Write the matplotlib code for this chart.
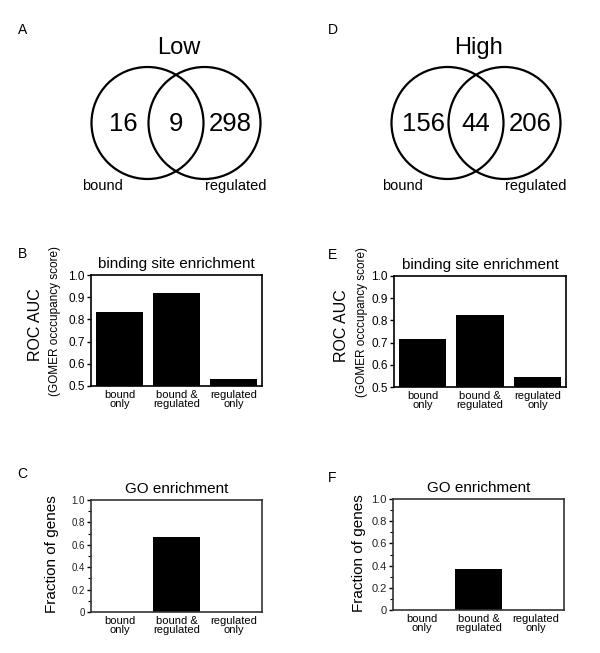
import matplotlib
matplotlib.use("Agg")
import matplotlib.pyplot as plt
from matplotlib.patches import Circle
from matplotlib.ticker import MultipleLocator

plt.rcParams['font.family'] = ['Liberation Sans', 'DejaVu Sans']

# ---- data ----
venn_titles = ["Low", "High"]
venn_low = [16, 9, 298]
venn_high = [156, 44, 206]
set_labels = ["bound", "regulated"]
categories = ["bound\nonly", "bound &\nregulated", "regulated\nonly"]
roc_low = [0.835, 0.92, 0.53]
roc_high = [0.715, 0.825, 0.545]
go_low = [0.0, 0.67, 0.0]
go_high = [0.0, 0.37, 0.0]
roc_ticks = [0.5, 0.6, 0.7, 0.8, 0.9, 1.0]
go_ticks = [0, 0.2, 0.4, 0.6, 0.8, 1.0]
go_ticklabels = ["0", "0.2", "0.4", "0.6", "0.8", "1.0"]

W, H = 600, 653
fig = plt.figure(figsize=(W / 100, H / 100), dpi=100)

# overlay in pixel coordinates for venns and panel letters
ov = fig.add_axes([0, 0, 1, 1])
ov.set_xlim(0, W)
ov.set_ylim(H, 0)
ov.axis('off')
ov.set_zorder(-1)


def venn(cx_left, counts, title):
    r = 56
    cy = 123
    cx_right = cx_left + 57
    for cx in (cx_left, cx_right):
        ov.add_patch(Circle((cx, cy), r, fill=False, lw=1.6, ec='black'))
    ov.text((cx_left + cx_right) / 2 + 3, 48, title, fontsize=17,
            ha='center', va='center')
    xs = [cx_left - 24, (cx_left + cx_right) / 2, cx_right + 26]
    for x, c in zip(xs, counts):
        ov.text(x, 124, str(c), fontsize=18.5, ha='center', va='center')
    ov.text(cx_left - 45, 186, set_labels[0], fontsize=10.5, ha='center', va='center')
    ov.text(cx_right + 31, 186, set_labels[1], fontsize=10.5, ha='center', va='center')


venn(147.5, venn_low, venn_titles[0])
venn(447.5, venn_high, venn_titles[1])

for lbl, x, y in [("A", 18, 30), ("D", 328, 30), ("B", 18, 254),
                  ("E", 328, 255), ("C", 17, 474), ("F", 328, 478)]:
    ov.text(x, y, lbl, fontsize=10, ha='left', va='center')


def rect(l, r, t, b):
    return [l / W, 1 - b / H, (r - l) / W, (b - t) / H]


def style_common(ax):
    ax.set_xlim(-0.5, 2.5)
    ax.set_xticks(range(3))
    ax.set_xticklabels(categories, fontsize=8, linespacing=0.8)
    ax.tick_params(axis='x', length=0, pad=3)


def roc_panel(r, vals):
    ax = fig.add_axes(r)
    ax.bar(range(3), vals, width=0.82, color='black')
    ax.set_ylim(0.5, 1.0)
    ax.set_yticks(roc_ticks)
    ax.set_yticklabels([f"{t:.1f}" for t in roc_ticks], fontsize=8.5)
    ax.tick_params(axis='y', direction='out', length=3, width=1, pad=1.5)
    style_common(ax)
    for s in ax.spines.values():
        s.set_linewidth(1.2)
    ax.set_title("binding site enrichment", fontsize=11, pad=5)
    return ax


def go_panel(r, vals, fs):
    ax = fig.add_axes(r)
    ax.bar(range(3), vals, width=0.82, color='black')
    ax.set_ylim(0, 1.0)
    ax.set_yticks(go_ticks)
    ax.set_yticklabels(go_ticklabels, fontsize=fs, color='#222222')
    ax.yaxis.set_minor_locator(MultipleLocator(0.1))
    ax.tick_params(axis='y', which='major', direction='out', length=3, width=1, pad=1.5)
    ax.tick_params(axis='y', which='minor', direction='out', length=2, width=0.8)
    style_common(ax)
    for s in ax.spines.values():
        s.set_linewidth(1.2)
        s.set_color('#333333')
    ax.set_title("GO enrichment", fontsize=11, pad=5)
    return ax


axB = roc_panel(rect(91, 262, 275, 386), roc_low)
axE = roc_panel(rect(394, 566, 276, 387), roc_high)
axC = go_panel(rect(91, 262, 500, 612), go_low, 7)
axF = go_panel(rect(393, 564, 499, 610), go_high, 8)

# y labels in pixel space
for x, y, t, fs in [(36, 325, "ROC AUC", 11.5), (55, 321, "(GOMER occcupancy score)", 8.5),
                    (341, 326, "ROC AUC", 11.5), (362, 322, "(GOMER occcupancy score)", 8.5),
                    (52, 554, "Fraction of genes", 11), (359, 553, "Fraction of genes", 11)]:
    ov.text(x, y, t, fontsize=fs, rotation=90, ha='center', va='center')

fig.savefig("out.png", dpi=100)
